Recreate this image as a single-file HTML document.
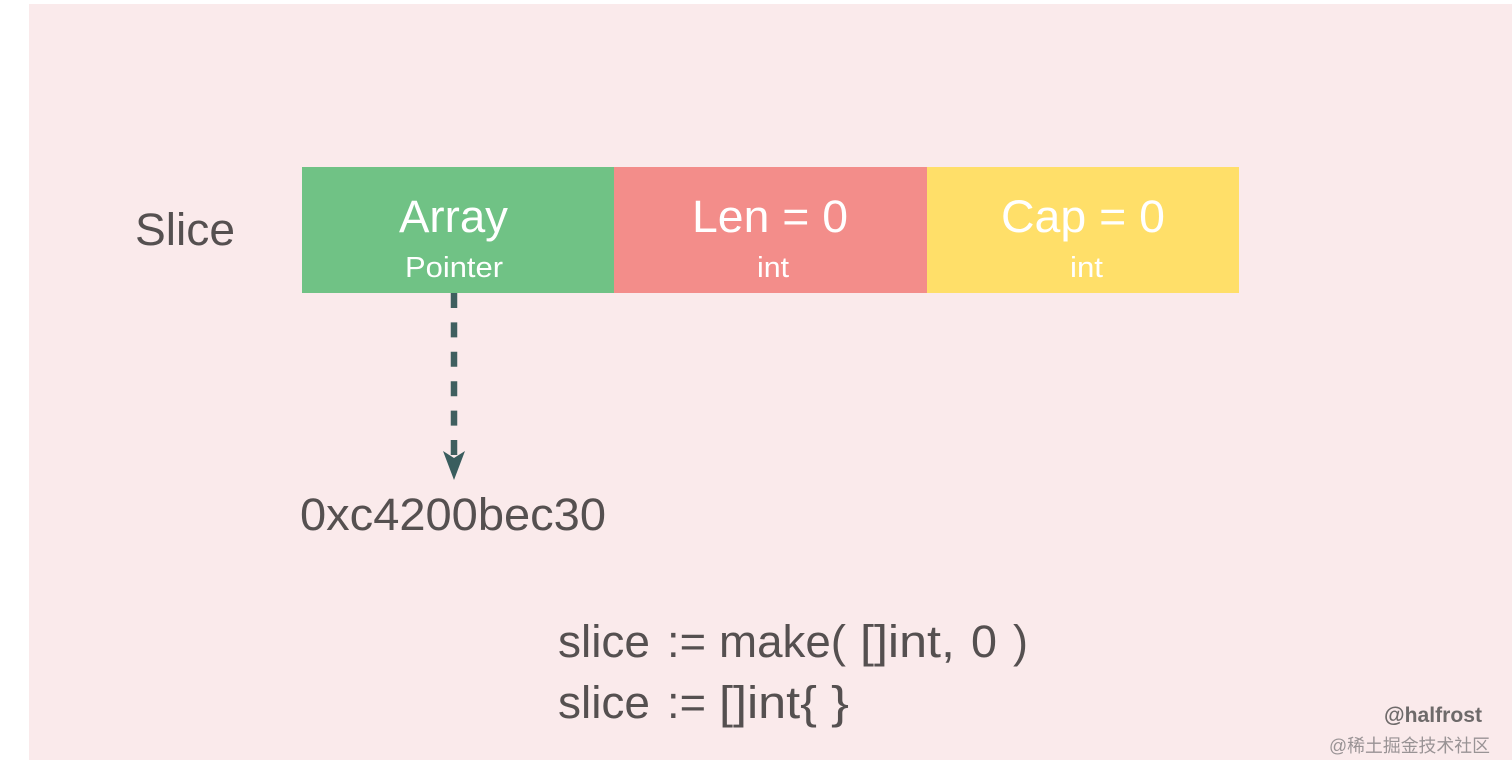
<!DOCTYPE html>
<html>
<head>
<meta charset="utf-8">
<style>
html,body{margin:0;padding:0;width:1512px;height:777px;overflow:hidden;background:#fff}
svg{display:block}
text{font-family:"Liberation Sans","Noto Sans CJK SC",sans-serif}
</style>
</head>
<body>
<svg width="1512" height="777" viewBox="0 0 1512 777" xmlns="http://www.w3.org/2000/svg">
<rect x="0" y="0" width="1512" height="777" fill="#fff"/>
<rect x="29" y="4" width="1483" height="756" fill="#faeaeb"/>
<rect x="302" y="167" width="312" height="126" fill="#70c285"/>
<rect x="614" y="167" width="313" height="126" fill="#f38d8a"/>
<rect x="927" y="167" width="312" height="126" fill="#ffdf69"/>

<text x="135" y="245" font-size="45" fill="#555050" textLength="100" lengthAdjust="spacingAndGlyphs">Slice</text>
<text x="399" y="232" font-size="45" fill="#fff" textLength="109" lengthAdjust="spacingAndGlyphs">Array</text>
<text x="405" y="277" font-size="29" fill="#fff" textLength="98" lengthAdjust="spacingAndGlyphs">Pointer</text>
<text x="692" y="232" font-size="45" fill="#fff" textLength="156" lengthAdjust="spacingAndGlyphs">Len = 0</text>
<text x="757" y="277" font-size="29" fill="#fff" textLength="32" lengthAdjust="spacingAndGlyphs">int</text>
<text x="1001" y="232" font-size="45" fill="#fff" textLength="164" lengthAdjust="spacingAndGlyphs">Cap = 0</text>
<text x="1070" y="277" font-size="29" fill="#fff" textLength="33" lengthAdjust="spacingAndGlyphs">int</text>

<line x1="454" y1="293" x2="454" y2="460" stroke="#3f5f5f" stroke-width="6.5" stroke-dasharray="15 14.4"/>
<polygon points="443,451 454,458 465,451 454,480" fill="#3a5d5e"/>

<text x="300" y="530" font-size="45" fill="#555050" textLength="306" lengthAdjust="spacingAndGlyphs">0xc4200bec30</text>

<g font-size="45" fill="#555050">
<text x="558" y="657" textLength="92" lengthAdjust="spacingAndGlyphs">slice</text>
<text x="667" y="657" textLength="39" lengthAdjust="spacingAndGlyphs">:=</text>
<text x="719" y="657" textLength="127" lengthAdjust="spacingAndGlyphs">make(</text>
<text x="860" y="657" textLength="95" lengthAdjust="spacingAndGlyphs">[]int,</text>
<text x="971" y="657" textLength="26" lengthAdjust="spacingAndGlyphs">0</text>
<text x="1013" y="657" textLength="15" lengthAdjust="spacingAndGlyphs">)</text>
<text x="558" y="718" textLength="92" lengthAdjust="spacingAndGlyphs">slice</text>
<text x="667" y="718" textLength="39" lengthAdjust="spacingAndGlyphs">:=</text>
<text x="719" y="718" textLength="98" lengthAdjust="spacingAndGlyphs">[]int{</text>
<text x="831" y="718" textLength="18" lengthAdjust="spacingAndGlyphs">}</text>
</g>

<text x="1384" y="722" font-size="21" font-weight="bold" fill="#6e6a6a" textLength="98" lengthAdjust="spacingAndGlyphs">@halfrost</text>
<text x="1329" y="752" font-size="18" fill="#999395" textLength="161" lengthAdjust="spacingAndGlyphs">@稀土掘金技术社区</text>
</svg>
</body>
</html>
